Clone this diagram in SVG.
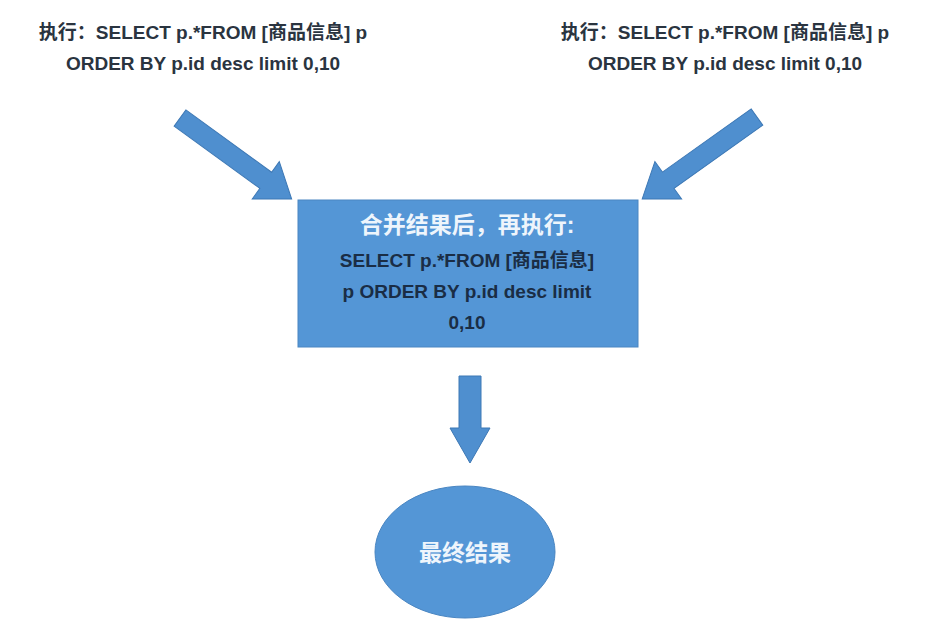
<svg xmlns="http://www.w3.org/2000/svg" width="949" height="630" viewBox="0 0 949 630">
<style>
.lab{font-family:"Liberation Sans","Noto Sans CJK SC",sans-serif;font-size:19px;font-weight:bold;fill:#2a3440;text-anchor:middle}
.dk{font-family:"Liberation Sans","Noto Sans CJK SC",sans-serif;font-size:19px;font-weight:bold;fill:#1a2d45;text-anchor:middle}
.wt{font-family:"Liberation Sans","Noto Sans CJK SC",sans-serif;font-size:23px;font-weight:bold;fill:#eef5fc;text-anchor:middle}
.sh{fill:#4f8fcf;stroke:#3d78b5;stroke-width:1}
</style>
<rect width="949" height="630" fill="#ffffff"/>
<g id="connectors">
<polygon class="sh" points="0,-10 106,-10 106,-23 138,0 106,23 106,10 0,10" transform="translate(180,118) rotate(36)"/>
<polygon class="sh" points="0,-10 109,-10 109,-23 141,0 109,23 109,10 0,10" transform="translate(757,117) rotate(144.5)"/>
<polygon class="sh" points="0,-11 52,-11 52,-20 87,0 52,20 52,11 0,11" transform="translate(470,376) rotate(90)"/>
</g>
<g id="label-left">
<text class="lab" x="203" y="39">执行：SELECT p.*FROM [商品信息] p</text>
<text class="lab" x="203" y="70">ORDER BY p.id desc limit 0,10</text>
</g>
<g id="label-right">
<text class="lab" x="725" y="39">执行：SELECT p.*FROM [商品信息] p</text>
<text class="lab" x="725" y="70">ORDER BY p.id desc limit 0,10</text>
</g>
<g id="merge">
<rect x="298" y="200" width="340" height="147" fill="#5496d6" stroke="#4a86c2"/>
<text class="wt" x="467" y="233">合并结果后，再执行:</text>
<text class="dk" x="467" y="267">SELECT p.*FROM [商品信息]</text>
<text class="dk" x="467" y="298">p ORDER BY p.id desc limit</text>
<text class="dk" x="467" y="329">0,10</text>
</g>
<g id="final">
<ellipse cx="465" cy="552" rx="90" ry="66" fill="#5496d6" stroke="#4a86c2"/>
<text class="wt" x="465" y="561">最终结果</text>
</g>
</svg>
